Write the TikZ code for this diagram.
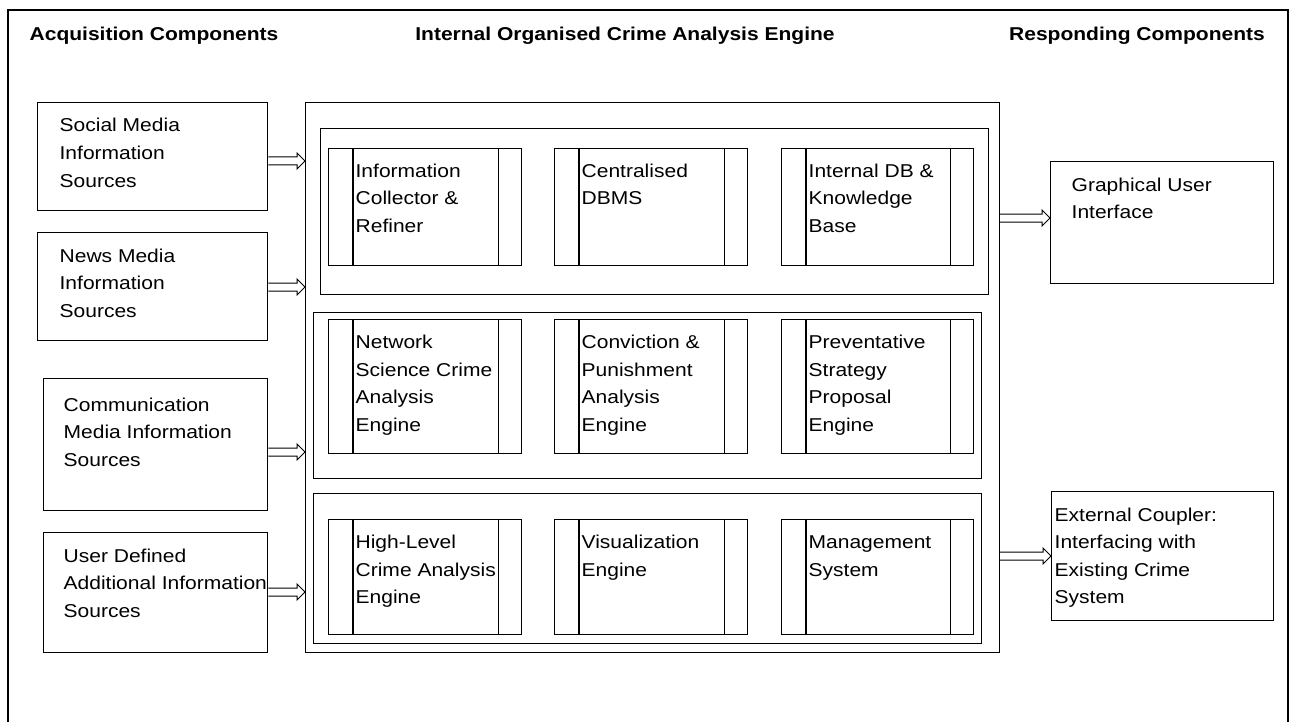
\documentclass[tikz,border=0pt]{standalone}
\usepackage{fontspec}
\setmainfont{Liberation Sans}[FakeStretch=1.13]
\usetikzlibrary{calc}
\newcommand\blockarrow[2]{%
  \draw[arr] ($(#1)+(0,-4)$) -- ($(#2)+(-8,-4)$) -- ($(#2)+(-8,-8)$) -- (#2)
    -- ($(#2)+(-8,8)$) -- ($(#2)+(-8,4)$) -- ($(#1)+(0,4)$);}
\newcommand\subbox[6]{%
  \node[box, minimum width=#4pt, minimum height=#5pt] (#1) at (#2,#3) {};
  \draw ($(#1.north west)+(25,0)$) -- ($(#1.south west)+(25,0)$);
  \draw ($(#1.north east)+(-24,0)$) -- ($(#1.south east)+(-24,0)$);
  \node[tx] (#1t) at ($(#1.north west)+(27,29.5)$) {\parbox[t]{170pt}{\raggedright #6}};}
\begin{document}
\begin{tikzpicture}[x=1pt, y=-1pt, line width=1.3pt,
  box/.style={draw, inner sep=0pt, anchor=north west},
  panel/.style={draw, inner sep=0pt, anchor=north west, line width=1.2pt},
  tx/.style={inner sep=0pt, anchor=base west, font=\fontsize{18.6}{27.5}\selectfont},
  ttl/.style={inner sep=0pt, anchor=base, font=\fontsize{18.6}{27.5}\selectfont\bfseries},
  arr/.style={line width=1pt, line join=miter}]
\useasboundingbox (0,0) rectangle (1292,722);
\draw (8,740) -- (8,10) -- (1288,10) -- (1288,740);

% titles
\node[ttl] (tacq) at (154,41) {Acquisition Components};
\node[ttl] (tint) at (625,41) {Internal Organised Crime Analysis Engine};
\node[ttl] (tres) at (1137,41) {Responding Components};

% left boxes
\node[box, minimum width=230pt, minimum height=108pt] (s1) at (37,102) {};
\node[tx] (s1t) at (59,132) {\parbox[t]{220pt}{Social Media\\Information\\Sources}};
\node[box, minimum width=230pt, minimum height=108pt] (s2) at (37,232) {};
\node[tx] (s2t) at (59,262) {\parbox[t]{220pt}{News Media\\Information\\Sources}};
\node[box, minimum width=224pt, minimum height=132pt] (s3) at (43,378) {};
\node[tx] (s3t) at (63,411) {\parbox[t]{220pt}{Communication\\Media Information\\Sources}};
\node[box, minimum width=224pt, minimum height=120pt] (s4) at (43,532) {};
\node[tx] (s4t) at (63,562) {\parbox[t]{240pt}{User Defined\\Additional Information\\Sources}};

% main engine
\node[panel] (main) at (305,102) [minimum width=694pt, minimum height=550pt] {};
\node[panel] (p1) at (320,128) [minimum width=668pt, minimum height=166pt] {};
\node[panel] (p2) at (313,312) [minimum width=668pt, minimum height=166pt] {};
\node[panel] (p3) at (313,493) [minimum width=668pt, minimum height=150pt] {};

\subbox{b11}{328}{148}{193}{117}{Information\\Collector \&\\Refiner}
\subbox{b12}{554}{148}{193}{117}{Centralised\\DBMS}
\subbox{b13}{781}{148}{192}{117}{Internal DB \&\\Knowledge\\Base}
\subbox{b21}{328}{319}{193}{134}{Network\\Science Crime\\Analysis\\Engine}
\subbox{b22}{554}{319}{193}{134}{Conviction \&\\Punishment\\Analysis\\Engine}
\subbox{b23}{781}{319}{192}{134}{Preventative\\Strategy\\Proposal\\Engine}
\subbox{b31}{328}{519}{193}{115}{High-Level\\Crime Analysis\\Engine}
\subbox{b32}{554}{519}{193}{115}{Visualization\\Engine}
\subbox{b33}{781}{519}{192}{115}{Management\\System}

% right boxes
\node[box, minimum width=223pt, minimum height=122pt] (gui) at (1050,161) {};
\node[tx] (guit) at (1071,191) {\parbox[t]{200pt}{Graphical User\\Interface}};
\node[box, minimum width=222pt, minimum height=129pt] (ext) at (1051,491) {};
\node[tx] (extt) at (1054,521) {\parbox[t]{215pt}{External Coupler:\\Interfacing with\\Existing Crime\\System}};

% arrows
\coordinate (a1) at (s1.east |- 0,161);
\coordinate (a2) at (s2.east |- 0,287);
\coordinate (a3) at (s3.east |- 0,452);
\coordinate (a4) at (s4.east |- 0,592);
\coordinate (a5) at (main.east |- 0,218);
\coordinate (a6) at (main.east |- 0,556);
\blockarrow{a1}{main.west |- a1}
\blockarrow{a2}{main.west |- a2}
\blockarrow{a3}{main.west |- a3}
\blockarrow{a4}{main.west |- a4}
\blockarrow{a5}{gui.west |- a5}
\blockarrow{a6}{ext.west |- a6}
\end{tikzpicture}
\end{document}
